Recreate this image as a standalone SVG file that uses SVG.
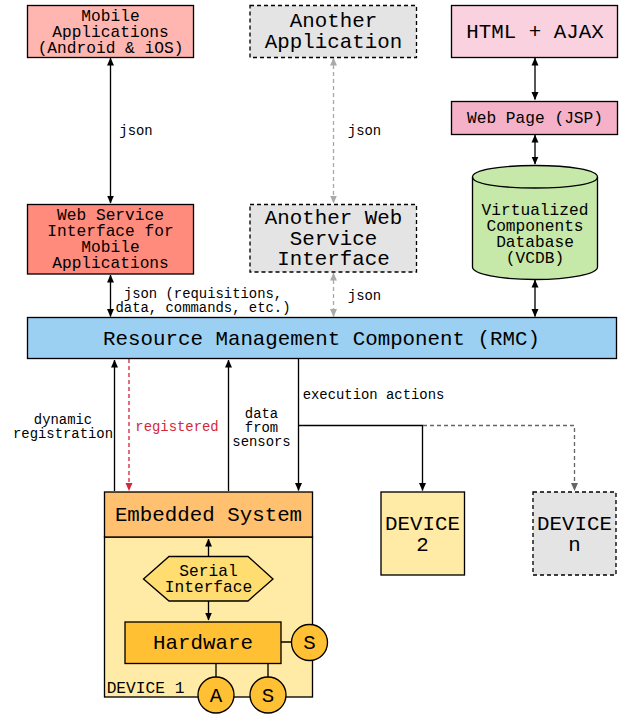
<svg xmlns="http://www.w3.org/2000/svg" width="622" height="715" viewBox="0 0 622 715">
<style>
text{font-family:"Liberation Mono",monospace;fill:#000;text-anchor:middle}
.m{font-size:16.2px}.l{font-size:20.8px}.s{font-size:13.9px}
.b{stroke:#000;stroke-width:1.33}
.d{stroke:#000;stroke-width:1.33;stroke-dasharray:4 3}
.c{fill:none;stroke:#000;stroke-width:1.33}
.g{fill:none;stroke:#aaa;stroke-width:1.33;stroke-dasharray:4 3}
.y{fill:#ffc033;stroke:#000;stroke-width:1.33}
</style>
<defs>
<marker id="a" markerUnits="userSpaceOnUse" markerWidth="8" markerHeight="10" refX="7.5" refY="4" orient="auto-start-reverse"><path d="M0 0.5L8 4L0 7.5Z" fill="#000"/></marker>
<marker id="ag" markerUnits="userSpaceOnUse" markerWidth="8" markerHeight="10" refX="7.5" refY="4" orient="auto-start-reverse"><path d="M0 0.5L8 4L0 7.5Z" fill="#aaa"/></marker>
<marker id="ad" markerUnits="userSpaceOnUse" markerWidth="8" markerHeight="10" refX="7.5" refY="4" orient="auto-start-reverse"><path d="M0 0.5L8 4L0 7.5Z" fill="#666"/></marker>
<marker id="ar" markerUnits="userSpaceOnUse" markerWidth="8" markerHeight="10" refX="7.5" refY="4" orient="auto-start-reverse"><path d="M0 0.5L8 4L0 7.5Z" fill="#d3283c"/></marker>
</defs>
<g id="connectors">
<path class="c" d="M110.500 58V203" marker-start="url(#a)" marker-end="url(#a)"/>
<path class="c" d="M110.500 275V316.500" marker-start="url(#a)" marker-end="url(#a)"/>
<path class="g" d="M333.500 58V203" marker-start="url(#ag)" marker-end="url(#ag)"/>
<path class="g" d="M333.500 273V316.500" marker-start="url(#ag)" marker-end="url(#ag)"/>
<path class="c" d="M535 58V99.500" marker-start="url(#a)" marker-end="url(#a)"/>
<path class="c" d="M535 135V164" marker-start="url(#a)" marker-end="url(#a)"/>
<path class="c" d="M535 280V316.500" marker-start="url(#a)" marker-end="url(#a)"/>
<path class="c" d="M114.500 491V360" marker-end="url(#a)"/>
<path fill="none" stroke="#d3283c" stroke-width="1.33" stroke-dasharray="4 3" d="M129 359V490.500" marker-end="url(#ar)"/>
<path class="c" d="M228.500 491V360" marker-end="url(#a)"/>
<path class="c" d="M298.500 359V490.500" marker-end="url(#a)"/>
<path class="c" d="M298.500 425.500H422.500V490.500" marker-end="url(#a)"/>
<path fill="none" stroke="#666" stroke-width="1.33" stroke-dasharray="4 3" d="M423 425.500H574.500V490.500" marker-end="url(#ad)"/>
</g>
<g id="mobile-apps"><rect class="b" x="27.500" y="5.500" width="166" height="52" fill="#ffb6b0"/><text class="m" x="110.500" y="21">Mobile</text><text class="m" x="110.500" y="37">Applications</text><text class="m" x="110.500" y="53">(Android &amp; iOS)</text></g>
<g id="another-app"><rect class="d" x="250" y="5.500" width="166.500" height="52" fill="#e4e4e4"/><text class="l" x="333.500" y="27">Another</text><text class="l" x="333.500" y="47.500">Application</text></g>
<g id="html-ajax"><rect class="b" x="451.500" y="5.500" width="166" height="52" fill="#fad1df"/><text class="l" x="535" y="37.500">HTML + AJAX</text></g>
<g id="web-page"><rect class="b" x="451.500" y="101.500" width="166" height="33" fill="#f4b1c7"/><text class="m" x="535" y="123">Web Page (JSP)</text></g>
<g id="vcdb"><path class="b" fill="#c6e8a8" d="M472.500 177V267C472.500 274 500 279.500 535 279.500S597.500 274 597.500 267V177C597.500 170 570 165.500 535 165.500S472.500 170 472.500 177Z"/><path class="c" d="M472.500 177C472.500 184 500 188 535 188S597.500 184 597.500 177"/><text class="m" x="535" y="215">Virtualized</text><text class="m" x="535" y="231">Components</text><text class="m" x="535" y="247">Database</text><text class="m" x="535" y="263">(VCDB)</text></g>
<g id="web-service"><rect class="b" x="27.500" y="204.500" width="166" height="69.500" fill="#ff8b7c"/><text class="m" x="110.500" y="220">Web Service</text><text class="m" x="110.500" y="236">Interface for</text><text class="m" x="110.500" y="252">Mobile</text><text class="m" x="110.500" y="268">Applications</text></g>
<g id="another-service"><rect class="d" x="250" y="204.500" width="166.500" height="67.500" fill="#e4e4e4"/><text class="l" x="333.500" y="224">Another Web</text><text class="l" x="333.500" y="244.500">Service</text><text class="l" x="333.500" y="265">Interface</text></g>
<g id="rmc"><rect class="b" x="27.500" y="317.500" width="589" height="41" fill="#9bd0f3"/><text class="l" x="321.500" y="345">Resource Management Component (RMC)</text></g>
<g id="device1"><rect class="b" x="104.500" y="537" width="208" height="160" fill="#ffeaa6"/><rect class="b" x="104.500" y="492" width="208" height="45" fill="#ffc070"/><text class="l" x="208.500" y="521">Embedded System</text>
<path class="c" d="M208.500 556V539" marker-end="url(#a)"/><path class="c" d="M208.500 601V620" marker-end="url(#a)"/>
<path class="c" d="M281 642H292M216 663V678M268 663V678"/>
<path class="b" fill="#ffdd70" d="M143.500 579L169 556.500H248L273 579L248 601H169Z"/><text class="m" x="208.500" y="576">Serial</text><text class="m" x="208.500" y="592">Interface</text>
<rect class="y" x="125" y="622" width="156" height="41.500"/><text class="l" x="203" y="649">Hardware</text>
<text class="m" x="145.500" y="693">DEVICE 1</text>
<circle class="y" cx="309.500" cy="642.500" r="18"/><text class="l" x="309.500" y="649">S</text>
<circle class="y" cx="216" cy="695" r="18"/><text class="l" x="216" y="702">A</text>
<circle class="y" cx="268" cy="695" r="18"/><text class="l" x="268" y="702">S</text></g>
<g id="device2"><rect class="b" x="381" y="492" width="83.500" height="83" fill="#ffeaa6"/><text class="l" x="422.500" y="530">DEVICE</text><text class="l" x="422.500" y="551">2</text></g>
<g id="devicen"><rect class="d" x="533" y="492" width="83" height="83" fill="#e4e4e4"/><text class="l" x="574.500" y="530">DEVICE</text><text class="l" x="574.500" y="551">n</text></g>
<g id="labels">
<text class="s" x="136" y="135">json</text><text class="s" x="364.500" y="135">json</text><text class="s" x="364.500" y="300">json</text>
<text class="s" x="203" y="298">json (requisitions,</text><text class="s" x="203" y="312">data, commands, etc.)</text>
<text class="s" x="63" y="424">dynamic</text><text class="s" x="63" y="438">registration</text>
<text class="s" x="177" y="431" style="fill:#d3283c">registered</text>
<text class="s" x="261.500" y="418">data</text><text class="s" x="261.500" y="432">from</text><text class="s" x="261.500" y="446">sensors</text>
<text class="s" x="373.500" y="399">execution actions</text>
</g>
</svg>
